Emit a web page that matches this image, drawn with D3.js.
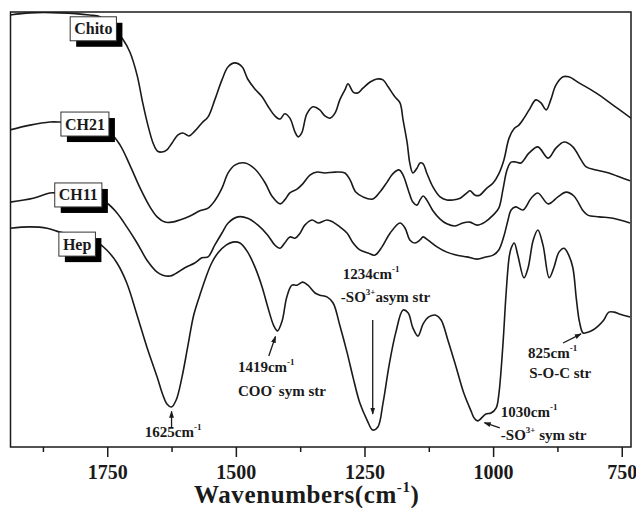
<!DOCTYPE html>
<html>
<head>
<meta charset="utf-8">
<script src="https://cdn.jsdelivr.net/npm/d3@7"></script>
<style>
  html, body { margin: 0; padding: 0; background: #fff; }
  svg { display: block; }
  text { font-family: "Liberation Serif", "Times New Roman", serif; font-weight: bold; fill: #1a1a1a; }
</style>
</head>
<body>
<svg id="chart" width="636" height="508"></svg>
<script>
// FTIR spectra: wavenumber (cm-1) and transmittance (a.u., offset per sample)
const chitoWn = [1939,1900,1842,1784,1764,1741,1720,1706,1692,1681,1671,1661,1653,1644,1634,1624,1613,1603,1591,1580,1566,1554,1541,1527,1515,1502,1488,1477,1463,1449,1438,1424,1414,1405,1395,1385,1379,1372,1362,1350,1337,1327,1317,1307,1298,1288,1282,1272,1263,1253,1239,1226,1214,1204,1191,1181,1175,1167,1162,1156,1148,1142,1136,1129,1117,1103,1090,1078,1064,1051,1045,1035,1026,1014,1000,989,979,969,959,950,940,930,917,907,897,888,878,864,853,833,800,767,732];
const chitoT  = [99.3,99.8,99.8,99.3,98.9,96.6,93.8,90.8,85.5,79.1,74.0,69.9,68.1,67.8,68.3,69.9,71.7,72.2,71.5,72.6,74.5,75.9,79.8,84.4,87.4,88.3,87.4,84.6,82.3,80.5,78.4,76.1,75.4,76.6,75.6,72.4,71.3,72.2,76.6,78.2,77.5,76.1,75.6,76.8,79.8,82.1,83.5,81.6,81.4,82.5,83.9,84.6,84.4,82.8,80.5,79.1,75.2,69.9,65.3,63.0,64.1,65.3,65.1,63.0,59.8,57.5,56.8,56.8,57.2,58.4,58.9,57.9,57.9,59.3,60.7,62.8,66.0,71.0,73.2,74.0,75.6,77.5,79.8,79.1,77.5,79.8,83.2,85.1,85.1,83.7,81.4,78.6,75.6];

const ch21Wn = [1939,1900,1861,1842,1793,1745,1725,1706,1686,1667,1653,1638,1624,1609,1589,1570,1554,1541,1527,1515,1502,1482,1463,1443,1430,1414,1405,1395,1381,1370,1356,1342,1327,1307,1288,1278,1267,1253,1234,1220,1206,1195,1183,1175,1165,1156,1148,1142,1136,1129,1117,1103,1090,1074,1059,1045,1031,1016,1000,989,981,973,965,956,946,930,913,893,878,862,845,829,819,800,775,755,734];
const ch21T  = [72.9,74.0,74.7,74.7,74.3,72.2,69.4,64.8,59.5,55.2,52.9,51.7,51.7,52.2,53.1,54.3,54.9,56.6,59.5,63.0,64.8,65.3,63.9,60.7,57.7,55.9,56.8,58.4,59.3,60.5,62.5,63.2,63.0,63.2,63.0,61.4,58.6,57.5,57.0,58.6,60.9,62.8,63.7,62.5,59.1,56.3,55.6,56.8,57.7,56.8,54.3,52.4,51.3,50.8,51.5,51.7,51.0,51.7,53.3,54.9,59.1,63.7,65.5,65.5,65.3,67.6,69.0,66.4,68.7,70.1,69.0,66.0,64.4,63.7,63.0,62.1,61.2];

const ch11Wn = [1939,1894,1861,1848,1803,1751,1731,1712,1692,1673,1653,1642,1628,1618,1599,1580,1566,1554,1541,1527,1515,1496,1477,1457,1438,1424,1414,1405,1395,1385,1375,1366,1352,1340,1323,1311,1298,1284,1272,1259,1243,1230,1216,1200,1181,1171,1162,1152,1142,1136,1127,1109,1090,1070,1051,1031,1014,1000,989,979,971,965,956,942,926,913,893,874,858,843,825,816,794,767,734];
const ch11T  = [56.3,57.2,58.4,58.4,58.6,56.1,53.8,50.6,46.9,43.0,40.2,39.5,39.3,39.8,41.2,42.3,43.5,43.7,46.4,49.2,51.5,52.9,52.6,51.0,48.7,46.4,45.7,46.9,48.3,48.0,49.2,51.0,52.2,51.5,52.2,51.7,50.6,49.2,46.9,45.3,44.6,44.1,46.0,49.2,51.5,50.3,47.6,46.9,47.6,48.3,47.6,46.0,44.8,44.1,43.7,43.2,43.7,44.1,45.3,48.5,52.2,54.5,55.2,54.5,57.2,58.4,55.9,57.5,58.6,57.7,54.3,53.3,52.9,52.6,51.5];

const hepWn = [1939,1900,1867,1842,1803,1768,1751,1731,1712,1692,1673,1653,1642,1634,1625,1616,1605,1593,1582,1570,1558,1547,1535,1519,1506,1492,1477,1463,1449,1438,1426,1419,1410,1401,1391,1381,1370,1360,1346,1337,1323,1311,1298,1284,1272,1259,1245,1234,1224,1214,1202,1189,1175,1165,1156,1146,1136,1125,1111,1101,1088,1072,1057,1043,1037,1030,1014,1004,994,989,981,975,969,965,959,952,940,932,922,913,903,891,882,872,862,853,845,838,832,825,816,806,796,786,775,765,755,734];
const hepT  = [50.3,50.6,50.3,49.4,48.5,46.9,45.3,42.3,37.7,30.3,23.0,16.1,12.0,9.9,9.2,10.8,15.9,23.4,30.3,34.9,39.1,42.3,44.6,46.4,47.1,46.9,44.8,41.4,36.8,32.2,27.8,26.7,29.0,34.5,37.2,37.2,37.9,37.2,35.4,34.9,34.5,33.1,28.0,21.8,15.9,10.1,6.2,3.9,4.6,10.1,18.9,26.4,31.5,30.8,27.4,25.5,28.3,29.9,30.3,29.2,24.6,18.4,12.4,8.3,6.7,6.0,7.6,7.8,9.0,12.0,23.4,34.9,43.5,45.7,46.9,44.1,38.9,41.2,47.6,49.9,46.4,38.9,41.2,44.8,45.7,44.1,41.2,33.8,28.7,26.2,26.4,26.9,27.8,29.0,31.0,31.0,30.6,29.9];

const seriesNames = ["Chito", "CH21", "CH11", "Hep"];
const majorTicks = [1750, 1500, 1250, 1000, 750];
const minorTicks = [1875, 1625, 1375, 1125, 875];
const axisTitle = "Wavenumbers(cm";

// ---------------------------------------------------------------
const W = 636, H = 508;
const frame = { left: 10.5, right: 631, top: 12, bottom: 447 };

const x = d3.scaleLinear().domain([1938, 732]).range([frame.left, frame.right]);
const y = d3.scaleLinear().domain([0, 100]).range([frame.bottom, frame.top]);

const svg = d3.select("#chart");
const ink = "#1a1a1a";

svg.append("defs").append("clipPath").attr("id", "plot-clip")
  .append("rect")
  .attr("x", frame.left).attr("y", frame.top)
  .attr("width", frame.right - frame.left).attr("height", frame.bottom - frame.top);

const defs = svg.select("defs");
defs.append("marker")
  .attr("id", "head").attr("viewBox", "0 0 10 10")
  .attr("refX", 9).attr("refY", 5)
  .attr("markerWidth", 7).attr("markerHeight", 7)
  .attr("markerUnits", "userSpaceOnUse")
  .attr("orient", "auto")
  .append("path").attr("d", "M0,1.5 L10,5 L0,8.5 Z").attr("fill", ink);

// spectra
const spectra = [
  { name: seriesNames[0], wn: chitoWn, t: chitoT },
  { name: seriesNames[1], wn: ch21Wn, t: ch21T },
  { name: seriesNames[2], wn: ch11Wn, t: ch11T },
  { name: seriesNames[3], wn: hepWn, t: hepT }
];

const line = d3.line()
  .x(d => x(d[0]))
  .y(d => y(d[1]))
  .curve(d3.curveCatmullRom.alpha(0.5));

svg.append("g").attr("clip-path", "url(#plot-clip)")
  .selectAll("path")
  .data(spectra)
  .join("path")
  .attr("d", s => line(s.wn.map((w, i) => [w, s.t[i]])))
  .attr("fill", "none")
  .attr("stroke", ink)
  .attr("stroke-width", 1.6)
  .attr("stroke-linejoin", "round");

// plot frame
svg.append("rect")
  .attr("x", frame.left).attr("y", frame.top)
  .attr("width", frame.right - frame.left).attr("height", frame.bottom - frame.top)
  .attr("fill", "none").attr("stroke", ink).attr("stroke-width", 1.5);

// x axis: major and minor ticks hanging below the frame
const axisG = svg.append("g").attr("transform", `translate(0,${frame.bottom})`);
axisG.append("g")
  .call(d3.axisBottom(x).tickValues(minorTicks).tickSize(5).tickSizeOuter(0).tickFormat(""))
  .call(g => g.select(".domain").remove())
  .call(g => g.selectAll("line").attr("stroke", ink).attr("stroke-width", 1.5));
axisG.append("g")
  .call(d3.axisBottom(x).tickValues(majorTicks).tickSize(10).tickSizeOuter(0).tickPadding(8).tickFormat(d3.format("d")))
  .call(g => g.select(".domain").remove())
  .call(g => g.selectAll("line").attr("stroke", ink).attr("stroke-width", 1.5))
  .call(g => g.selectAll("text")
    .attr("fill", ink)
    .style("font-family", '"Liberation Serif", "Times New Roman", serif')
    .style("font-weight", "bold")
    .style("font-size", "20px"));

// axis title
const title = svg.append("text")
  .attr("x", (frame.left + frame.right) / 2 - 14)
  .attr("y", 503)
  .attr("text-anchor", "middle")
  .style("font-size", "25px")
  .style("letter-spacing", "0.6px");
title.append("tspan").text(axisTitle);
title.append("tspan").attr("dy", -11).style("font-size", "15px").text("-1");
title.append("tspan").attr("dy", 11).text(")");

// rich text helper: parts = [[string, isSuperscript], ...]
function richText(g, px, py, parts, size, anchor) {
  const t = g.append("text")
    .attr("x", px).attr("y", py)
    .attr("text-anchor", anchor || "start")
    .style("font-size", size + "px");
  let raised = false;
  parts.forEach(([s, sup]) => {
    const ts = t.append("tspan").text(s);
    if (sup && !raised) { ts.attr("dy", -size * 0.45).style("font-size", (size * 0.6) + "px"); raised = true; }
    else if (sup) { ts.style("font-size", (size * 0.6) + "px"); }
    else if (!sup && raised) { ts.attr("dy", size * 0.45); raised = false; }
  });
  return t;
}

// peak annotations (positions in wavenumber / transmittance units)
const noteText = [
  { wn: 1622, t: 2.3,  anchor: "middle", parts: [["1625cm", 0], ["-1", 1]] },
  { wn: 1496, t: 17.2, parts: [["1419cm", 0], ["-1", 1]] },
  { wn: 1496, t: 11.8, parts: [["COO", 0], ["-", 1], [" sym str", 0]] },
  { wn: 1292, t: 38.6, parts: [["1234cm", 0], ["-1", 1]] },
  { wn: 1296, t: 33.3, parts: [["-SO", 0], ["3+", 1], ["asym str", 0]] },
  { wn: 985,  t: 6.9,  parts: [["1030cm", 0], ["-1", 1]] },
  { wn: 985,  t: 1.6,  parts: [["-SO", 0], ["3+", 1], [" sym str", 0]] },
  { wn: 932,  t: 20.5, parts: [["825cm", 0], ["-1", 1]] },
  { wn: 930,  t: 15.9, parts: [["S-O-C str", 0]] }
];
const noteArrows = [
  { from: [1625, 4.6], to: [1625, 8.2] },
  { from: [1436, 20.9], to: [1423, 25.4] },
  { from: [1234, 29.2], to: [1234, 7.6] },
  { from: [987, 4.4], to: [1017, 5.6] },
  { from: [864, 23.9], to: [829, 26.0] }
];

const notes = svg.append("g");
noteText.forEach(n => richText(notes, x(n.wn), y(n.t), n.parts, 15, n.anchor));
notes.selectAll("line.arrow")
  .data(noteArrows)
  .join("line")
  .attr("class", "arrow")
  .attr("x1", d => x(d.from[0])).attr("y1", d => y(d.from[1]))
  .attr("x2", d => x(d.to[0])).attr("y2", d => y(d.to[1]))
  .attr("stroke", ink).attr("stroke-width", 1.3)
  .attr("marker-end", "url(#head)");

// sample tags: white boxes with a drop shadow, sitting on each trace
const tagAt = [
  { wn: 1822, t: 98.9 },
  { wn: 1840, t: 77.0 },
  { wn: 1852, t: 60.7 },
  { wn: 1844, t: 49.4 }
];
const tags = svg.append("g");
seriesNames.forEach((name, i) => {
  const g = tags.append("g").attr("transform", `translate(${x(tagAt[i].wn)},${y(tagAt[i].t)})`);
  const shadow = g.append("rect");
  const box = g.append("rect");
  const txt = g.append("text").style("font-size", "16px").attr("text-anchor", "middle").text(name);
  const bw = txt.node().getBBox().width + 8;
  const bh = 24;
  txt.attr("x", bw / 2).attr("y", bh / 2 + 5.5);
  shadow.attr("x", 6).attr("y", 6).attr("width", bw).attr("height", bh).attr("fill", "#000");
  box.attr("x", 0).attr("y", 0).attr("width", bw).attr("height", bh)
    .attr("fill", "#fff").attr("stroke", "#333").attr("stroke-width", 1);
});
</script>
</body>
</html>
